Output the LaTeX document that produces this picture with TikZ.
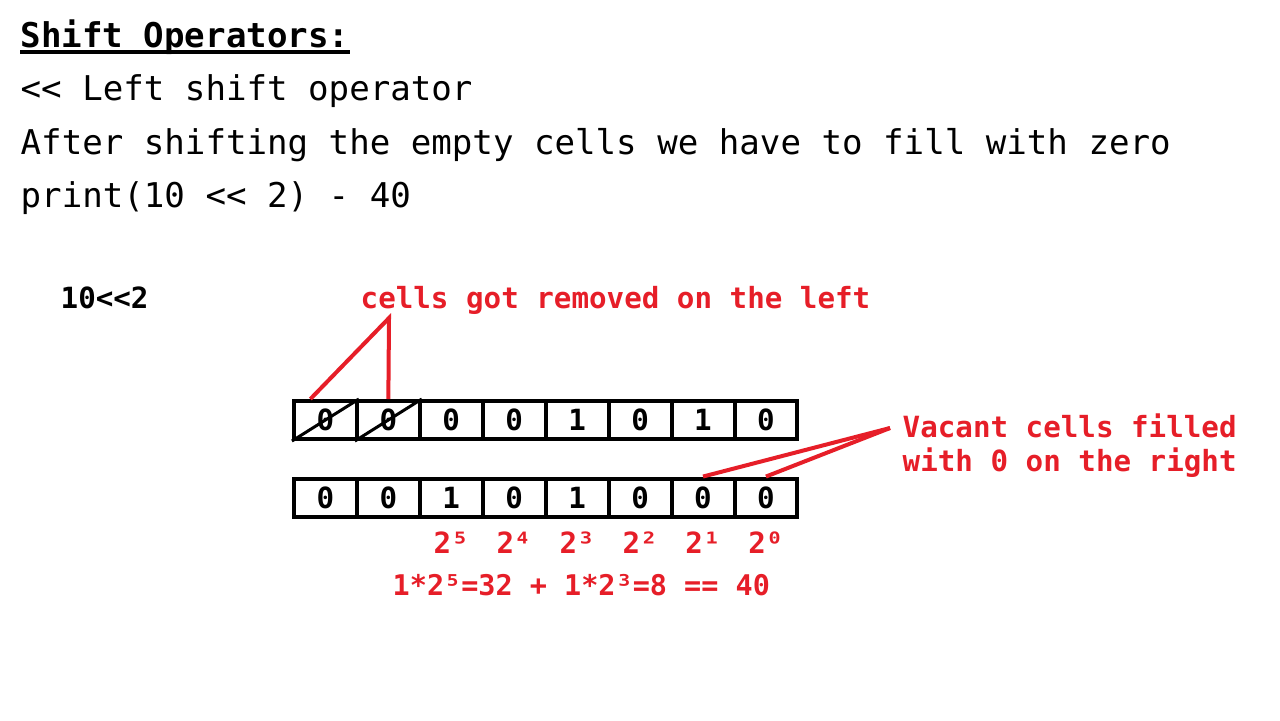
\documentclass[tikz,border=0pt]{standalone}
\usepackage{fontspec}
\newfontfamily\consol{DejaVu Sans Mono}
\definecolor{notered}{RGB}{230,30,40}

\begin{document}
\begin{tikzpicture}[x=0.01cm,y=-0.01cm,node distance=0.629cm,
	big/.style={anchor=base west,inner sep=0pt,font=\consol\fontsize{9.7}{11}\selectfont},
	small/.style={anchor=base west,inner sep=0pt,font=\consol\bfseries\fontsize{8.3}{10}\selectfont},
	note/.style={small,text=notered},
	cell/.style={shape=rectangle,draw,line width=0.4mm,minimum width=0.629cm,minimum height=0.38cm,inner sep=0pt,font=\consol\bfseries\fontsize{8.3}{10}\selectfont},
	pow/.style={inner sep=0pt,text=notered,font=\consol\bfseries\fontsize{8.3}{10}\selectfont},
	redline/.style={draw=notered,line width=0.4mm}]
	\useasboundingbox (0,0) rectangle (1280,720);

	\node[big,font=\consol\bfseries\fontsize{9.7}{11}\selectfont] (title) at (20,47) {Shift Operators:};
	\draw[line width=0.35mm] ([yshift=-0.05cm]title.base west) -- ([yshift=-0.05cm]title.base east);
	\node[big] (lshift) at (20,100) {<{}< Left shift operator};
	\node[big] (after) at (20,154) {After shifting the empty cells we have to fill with zero};
	\node[big] (println) at (20,207) {print(10 <{}< 2) - 40};

	\node[small] (expr) at (60,308) {10<{}<2};
	\node[note] (removed) at (360,308) {cells got removed on the left};
	\node[note] (vacant) at (902,437) {Vacant cells filled};
	\node[note] (vacant2) at (902,471) {with 0 on the right};

	\node[cell] (a1) at (325.4,420) {0};
	\node[cell] (a2) [right of=a1] {0};
	\node[cell] (a3) [right of=a2] {0};
	\node[cell] (a4) [right of=a3] {0};
	\node[cell] (a5) [right of=a4] {1};
	\node[cell] (a6) [right of=a5] {0};
	\node[cell] (a7) [right of=a6] {1};
	\node[cell] (a8) [right of=a7] {0};

	\node[cell] (b1) [node distance=0.775cm,below of=a1] {0};
	\node[cell] (b2) [right of=b1] {0};
	\node[cell] (b3) [right of=b2] {1};
	\node[cell] (b4) [right of=b3] {0};
	\node[cell] (b5) [right of=b4] {1};
	\node[cell] (b6) [right of=b5] {0};
	\node[cell] (b7) [right of=b6] {0};
	\node[cell] (b8) [right of=b7] {0};

	\draw[line width=0.3mm] (a1.south west) -- (a1.north east);
	\draw[line width=0.3mm] (a2.south west) -- (a2.north east);

	\coordinate (rmtip) at (389,318);
	\draw[redline] ([xshift=-0.15cm]a1.north) -- (rmtip) -- (a2.north);
	\coordinate (vctip) at (890,428);
	\draw[redline] (b7.north) -- (vctip);
	\draw[redline] (b8.north) -- (vctip);

	\node[pow] (p5) [node distance=0.45cm,below of=b3] {2⁵};
	\node[pow] (p4) [node distance=0.45cm,below of=b4] {2⁴};
	\node[pow] (p3) [node distance=0.45cm,below of=b5] {2³};
	\node[pow] (p2) [node distance=0.45cm,below of=b6] {2²};
	\node[pow] (p1) [node distance=0.45cm,below of=b7] {2¹};
	\node[pow] (p0) [node distance=0.45cm,below of=b8] {2⁰};
	\node[note,font=\consol\bfseries\fontsize{8.1}{10}\selectfont] (sum) at (392,595) {1*2⁵=32 + 1*2³=8 == 40};
\end{tikzpicture}
\end{document}
